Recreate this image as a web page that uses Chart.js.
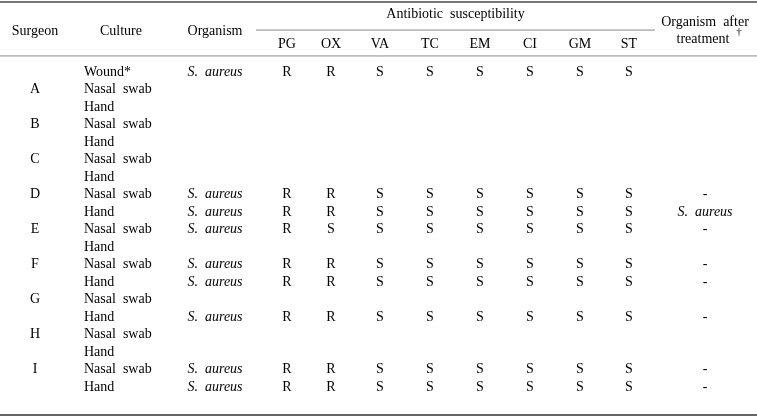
<!DOCTYPE html>
<html>
<head>
<meta charset="utf-8">
<script src="https://cdn.jsdelivr.net/npm/chart.js@4.4.0/dist/chart.umd.min.js"></script>
<style>
  html, body { margin: 0; padding: 0; background: #fff; }
  #wrap { width: 757px; height: 418px; }
</style>
</head>
<body>
<div id="wrap"><canvas id="table"></canvas></div>
<script>
// table rows (one per culture)
const surgeons = ['', 'A', '', 'B', '', 'C', '', 'D', '', 'E', '', 'F', '', 'G', '', 'H', '', 'I', ''];
const cultures = ['Wound*', 'Nasal  swab', 'Hand', 'Nasal  swab', 'Hand', 'Nasal  swab', 'Hand',
  'Nasal  swab', 'Hand', 'Nasal  swab', 'Hand', 'Nasal  swab', 'Hand', 'Nasal  swab', 'Hand',
  'Nasal  swab', 'Hand', 'Nasal  swab', 'Hand'];
const organisms = ['S.  aureus', '', '', '', '', '', '', 'S.  aureus', 'S.  aureus', 'S.  aureus', '',
  'S.  aureus', 'S.  aureus', '', 'S.  aureus', '', '', 'S.  aureus', 'S.  aureus'];
const drugs = ['PG', 'OX', 'VA', 'TC', 'EM', 'CI', 'GM', 'ST'];
// one letter per drug, in the order above
const results = ['RRSSSSSS', '', '', '', '', '', '', 'RRSSSSSS', 'RRSSSSSS', 'RSSSSSSS', '',
  'RRSSSSSS', 'RRSSSSSS', '', 'RRSSSSSS', '', '', 'RRSSSSSS', 'RRSSSSSS'];
const afterTreatment = ['', '', '', '', '', '', '', '-', 'S.  aureus', '-', '', '-', '-', '', '-', '', '', '-', '-'];

// layout: column centres / edges on the x scale, header rows on the row scale
const COL = { surgeon: 35, culture: 84, cultureHead: 121, organism: 215, after: 705,
  drugs: [287, 331, 380, 430, 480, 530, 580, 629], groupFrom: 256, groupTo: 655 };
const HEAD = { group: -3.31, title: -2.34, after1: -2.86, after2: -1.89, drug: -1.6,
  top: -3.94, groupLine: -2.34, headLine: -0.86, bottom: 19.66 };

const FONT = '14px "Liberation Serif", "Times New Roman", serif';
const ITALIC = 'italic 14px "Liberation Serif", "Times New Roman", serif';

function textSet(points, texts, font, align) {
  return { data: points, texts: texts, txtFont: font, txtAlign: align || 'center', pointRadius: 0 };
}

function column(values, x, font, align) {
  const pts = [], txt = [];
  values.forEach((v, i) => { if (v) { pts.push({ x: x, y: i }); txt.push(v); } });
  return textSet(pts, txt, font, align);
}

function rule(y, from, to, width, color) {
  return { data: [{ x: from, y: y }, { x: to, y: y }], showLine: true, pointRadius: 0,
    borderColor: color, borderWidth: width, clip: false };
}

const datasets = [
  rule(HEAD.top, 0, 757, 2, '#777'),
  rule(HEAD.groupLine, COL.groupFrom, COL.groupTo, 1, '#888'),
  rule(HEAD.headLine, 0, 757, 1, '#888'),
  rule(HEAD.bottom, 0, 757, 2, '#666'),
  textSet([
    { x: COL.surgeon, y: HEAD.title }, { x: COL.cultureHead, y: HEAD.title },
    { x: COL.organism, y: HEAD.title }, { x: (COL.groupFrom + COL.groupTo) / 2, y: HEAD.group },
    { x: COL.after, y: HEAD.after1 }, { x: COL.after - 2, y: HEAD.after2 }
  ], ['Surgeon', 'Culture', 'Organism', 'Antibiotic  susceptibility', 'Organism  after', 'treatment'], FONT),
  textSet([{ x: COL.after + 34, y: HEAD.after2 - 0.38 }], ['\u2020'], '11px "Liberation Serif", serif'),
  textSet(COL.drugs.map(x => ({ x: x, y: HEAD.drug })), drugs, FONT),
  column(surgeons, COL.surgeon, FONT),
  column(cultures, COL.culture, FONT, 'left'),
  column(organisms, COL.organism, ITALIC),
  column(afterTreatment.map(v => v === '-' ? v : ''), COL.after, FONT),
  column(afterTreatment.map(v => v === '-' ? '' : v), COL.after, ITALIC)
];
drugs.forEach((d, j) => {
  datasets.push(column(results.map(r => r ? r[j] : ''), COL.drugs[j], FONT));
});

const cellText = {
  id: 'cellText',
  afterDatasetsDraw(chart) {
    const ctx = chart.ctx;
    chart.data.datasets.forEach((ds, i) => {
      if (!ds.texts) return;
      const meta = chart.getDatasetMeta(i);
      ctx.save();
      ctx.font = ds.txtFont;
      ctx.fillStyle = '#000';
      ctx.textAlign = ds.txtAlign;
      ctx.textBaseline = 'middle';
      meta.data.forEach((pt, j) => ctx.fillText(ds.texts[j], pt.x, pt.y + 1));
      ctx.restore();
    });
  }
};

new Chart(document.getElementById('table'), {
  type: 'scatter',
  data: { datasets: datasets },
  options: {
    responsive: true,
    maintainAspectRatio: false,
    animation: false,
    events: [],
    layout: { padding: { top: 71, bottom: 32, left: 0, right: 0 } },
    plugins: { legend: { display: false }, tooltip: { enabled: false } },
    scales: {
      x: { type: 'linear', min: 0, max: 757, display: false },
      y: { type: 'linear', min: 0, max: 18, reverse: true, display: false }
    }
  },
  plugins: [cellText]
});
</script>
</body>
</html>
